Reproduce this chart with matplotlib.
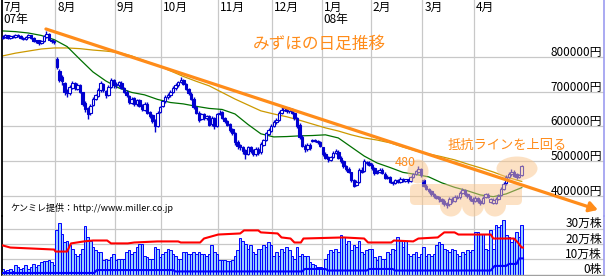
import numpy as np
import matplotlib
matplotlib.use("Agg")
import matplotlib.pyplot as plt
import matplotlib.transforms as mtransforms
from matplotlib.patches import Ellipse, Circle, FancyBboxPatch, PathPatch
from matplotlib.path import Path

plt.rcParams['font.family'] = ['Noto Sans CJK JP', 'DejaVu Sans']

# ---------------- data (prices in 千円, volume in 万株) ----------------
month_labels = ['7月', '8月', '9月', '10月', '11月', '12月', '1月', '2月', '3月', '4月']
month_start = [0, 21, 44, 62, 84, 105, 124, 143, 163, 183]
year_labels = ['07年', '08年']
year_start = [0, 124]

open_k = [
    855, 857, 862, 856, 861, 858, 864, 860, 855, 852, 858, 862, 855, 845, 848, 840, 846, 858, 866, 850, 847,
    795, 760, 742, 725, 702, 697, 712, 724, 708, 718, 698, 668, 652, 638, 662, 678, 688, 705, 722, 703, 692, 713, 733,
    722, 718, 726, 710, 700, 688, 668, 682, 664, 676, 662, 648, 666, 642, 632, 618, 600, 642,
    660, 672, 684, 690, 700, 710, 718, 728, 735, 722, 708, 694, 680, 655, 640, 622, 635, 624, 630, 606, 625, 602,
    636, 642, 624, 616, 606, 592, 582, 556, 546, 541, 532, 522, 541, 531, 521, 536, 526, 548, 562, 578, 588,
    602, 612, 618, 640, 648, 652, 644, 650, 638, 624, 605, 570, 545, 536, 548, 558, 560, 557, 555,
    540, 522, 512, 503, 512, 524, 528, 510, 500, 486, 478, 468, 445, 432, 440, 476, 472, 498, 496,
    490, 480, 466, 470, 476, 464, 452, 455, 440, 438, 446, 440, 450, 444, 448, 443, 455, 462, 470, 478,
    445, 430, 420, 414, 405, 400, 396, 390, 386, 380, 376, 392, 386, 398, 396, 410, 418, 406, 400, 392,
    386, 394, 386, 380, 396, 404, 384, 380, 381, 392, 402, 420, 436, 456, 462, 470, 462, 456, 460,
]
high_k = [
    862, 865, 863, 862, 863, 867, 866, 862, 858, 860, 865, 864, 857, 850, 850, 848, 862, 875, 868, 853, 849,
    800, 765, 748, 728, 708, 718, 730, 728, 724, 722, 700, 672, 657, 664, 684, 694, 710, 730, 726, 706, 718, 740, 738,
    728, 732, 730, 714, 704, 692, 686, 686, 680, 680, 666, 670, 670, 646, 636, 622, 645, 660,
    676, 690, 695, 705, 716, 725, 732, 742, 738, 726, 712, 698, 684, 660, 644, 640, 638, 634, 634, 630, 628, 640,
    648, 646, 628, 620, 610, 596, 585, 560, 550, 545, 536, 545, 545, 534, 540, 540, 555, 565, 585, 595, 606,
    618, 625, 645, 655, 658, 656, 655, 654, 642, 628, 610, 575, 550, 552, 552, 563, 563, 560, 558,
    542, 526, 516, 516, 530, 535, 532, 514, 504, 490, 482, 470, 450, 446, 480, 482, 505, 502, 500,
    494, 484, 474, 480, 480, 468, 460, 458, 444, 448, 450, 454, 452, 450, 450, 458, 466, 476, 485, 480,
    448, 434, 424, 418, 410, 404, 400, 394, 390, 384, 396, 396, 402, 402, 414, 424, 420, 410, 404, 396,
    400, 398, 390, 400, 410, 408, 394, 394, 396, 405, 425, 440, 460, 468, 478, 474, 465, 464, 490,
]
low_k = [
    851, 854, 853, 853, 855, 855, 857, 852, 848, 849, 855, 852, 842, 840, 835, 837, 843, 855, 848, 840, 838,
    765, 728, 718, 690, 685, 692, 708, 705, 705, 695, 660, 642, 622, 632, 658, 675, 684, 700, 700, 683, 688, 710, 712,
    712, 714, 708, 695, 685, 665, 664, 660, 660, 655, 645, 645, 636, 625, 610, 585, 598, 638,
    655, 668, 680, 686, 696, 706, 714, 724, 718, 704, 690, 676, 650, 636, 612, 618, 620, 620, 600, 602, 592, 598,
    632, 622, 610, 600, 585, 575, 548, 535, 532, 522, 505, 518, 525, 515, 516, 518, 522, 545, 558, 575, 585,
    598, 608, 615, 636, 644, 640, 640, 636, 620, 596, 565, 540, 528, 530, 532, 555, 554, 550, 540,
    516, 505, 498, 500, 508, 520, 506, 495, 480, 472, 465, 440, 425, 428, 436, 465, 468, 490, 485,
    476, 460, 462, 466, 462, 448, 448, 436, 432, 435, 436, 438, 440, 440, 438, 440, 452, 460, 466, 455,
    426, 416, 410, 400, 395, 390, 384, 378, 370, 366, 372, 380, 382, 390, 392, 405, 400, 395, 386, 378,
    382, 380, 375, 378, 393, 394, 380, 376, 378, 388, 400, 418, 432, 452, 458, 455, 450, 452, 458,
]
close_k = [
    858, 862, 856, 860, 858, 864, 860, 855, 852, 858, 862, 855, 845, 848, 840, 845, 860, 865, 850, 846, 842,
    770, 735, 730, 700, 695, 715, 725, 710, 720, 700, 665, 650, 635, 660, 680, 690, 705, 725, 705, 690, 715, 735, 720,
    720, 728, 711, 699, 690, 670, 680, 665, 675, 660, 650, 665, 640, 630, 615, 600, 640, 655,
    672, 685, 690, 700, 712, 720, 728, 735, 722, 708, 695, 680, 655, 640, 620, 635, 625, 630, 605, 625, 600, 635,
    640, 625, 615, 605, 590, 580, 555, 545, 540, 530, 520, 540, 530, 520, 535, 525, 550, 560, 580, 590, 600,
    612, 620, 640, 648, 652, 645, 650, 640, 625, 600, 570, 545, 535, 548, 538, 560, 558, 555, 545,
    520, 510, 505, 512, 525, 530, 510, 500, 485, 478, 470, 445, 430, 440, 475, 470, 500, 495, 490,
    480, 465, 470, 475, 465, 452, 455, 440, 438, 445, 440, 450, 445, 448, 442, 455, 462, 472, 478, 460,
    430, 420, 415, 405, 400, 395, 390, 385, 378, 375, 392, 385, 398, 395, 410, 418, 405, 400, 392, 385,
    395, 385, 380, 395, 405, 398, 390, 388, 392, 400, 420, 435, 455, 462, 470, 458, 455, 460, 485,
]
volume_man = [
    3.7, 2.6, 3.1, 3.7, 2.6, 5.9, 4.8, 3.7, 4.4, 5.9, 3.7, 4.8, 7.0, 4.8, 6.5, 8.1, 8.5, 8.7, 9.2, 8.1, 6.5,
    29.2, 33.8, 26.6, 21.1, 22.2, 19.0, 16.8, 13.5, 12.4, 13.5, 16.8, 31.4, 24.4, 22.2, 17.9, 15.7, 14.6, 14.6, 9.2, 10.2, 9.2, 11.3, 13.5,
    9.2, 10.2, 10.2, 10.2, 14.6, 15.7, 13.5, 14.6, 17.9, 20.0, 20.0, 12.4, 11.3, 10.2, 10.2, 17.9, 16.8, 11.3,
    13.5, 14.6, 16.8, 15.7, 13.5, 12.4, 10.2, 10.2, 14.6, 14.6, 13.5, 13.5, 14.6, 13.5, 14.6, 13.5, 13.5, 12.4, 13.5, 19.0, 14.6, 13.5,
    9.2, 9.2, 9.2, 8.7, 8.7, 9.2, 12.4, 15.7, 24.0, 22.2, 20.0, 16.8, 19.0, 14.6, 13.5, 16.8, 16.8, 19.0, 17.9, 21.1, 19.0,
    12.4, 14.6, 12.4, 16.8, 14.6, 17.9, 15.7, 12.4, 10.2, 17.9, 12.4,
    13.5, 12.4, 12.4, 8.1, 7.0, 5.9, 4.8, 4.8, 3.7, 10.2,
    13.5, 15.7, 14.6, 16.8, 14.6, 25.5, 24.4, 20.0, 22.2, 15.7,
    19.0, 17.9, 22.2, 14.6, 13.5, 15.7, 16.8, 16.8, 11.3, 9.2,
    12.4, 10.2, 10.2, 14.6, 13.5, 16.8, 15.7, 24.4, 22.2, 17.9,
    22.2, 13.5, 12.4, 13.5, 14.6, 11.3, 13.5, 17.9, 12.4, 13.5,
    12.4, 13.5, 19.0, 21.1, 20.0, 16.8, 15.7, 14.6, 16.8, 15.7,
    13.5, 12.4, 14.6, 13.5, 15.7, 14.6,
    15.7, 27.7, 27.7, 26.6, 26.6, 16.8, 15.7, 28.8, 16.8, 32.0, 31.0, 32.0, 35.3, 25.5, 24.4, 21.1, 23.3, 27.7, 24.4, 32.5,
]

# moving averages read every 5 trading days
ma_day = [0, 5, 10, 15, 20, 25, 30, 35, 40, 45, 50, 55, 60, 65, 70, 75, 80, 85, 90, 95, 100,
          105, 110, 115, 120, 125, 130, 135, 140, 145, 150, 155, 160, 165, 170, 175, 180, 185, 190, 195, 200, 201]
ma25_k = [875, 873, 869, 862, 850, 830, 793, 757, 731, 711, 698, 691, 678, 669, 665, 658, 652, 649, 636, 606, 579,
          570, 571, 573, 574, 576, 567, 541, 515, 495, 482, 468, 462, 455, 438, 425, 415, 403, 398, 406, 421, 424]
ma75_k = [803, 811, 817, 823, 826, 826, 824, 820, 817, 813, 803, 789, 776, 760, 744, 730, 717, 698, 679, 662, 645,
          636, 628, 618, 607, 596, 587, 576, 567, 561, 553, 541, 530, 521, 513, 504, 492, 481, 469, 455, 444, 442]

red_day = [0, 3, 11, 20, 20.5, 25, 26.5, 31.5, 35, 40.5, 42, 48.5, 51, 60, 68, 69, 76.5, 78, 83.5, 92, 93.5, 99, 100,
           106.5, 108, 111.5, 113, 115.5, 116.5, 132, 140, 141.5, 150.5, 151.5, 159, 161, 168.5, 171, 175, 176.5,
           189, 190, 198, 199.5, 201, 201.5]
red_man = [19.0, 17.6, 17.0, 16.3, 15.0, 15.0, 20.3, 21.6, 22.2, 22.2, 20.3, 20.3, 20.9, 21.6, 21.6, 20.9, 20.9, 23.5,
           26.1, 26.8, 28.8, 28.8, 27.5, 26.8, 24.2, 23.5, 20.9, 20.9, 23.5, 24.2, 23.5, 20.9, 20.9, 22.2, 21.6, 23.5,
           24.2, 27.5, 27.5, 26.1, 26.1, 23.5, 23.5, 20.9, 17.6, 17.6]
blue_day = [0, 35.5, 36.5, 66, 67, 116, 117, 125, 126, 141, 142, 151, 152, 189, 190.5, 195, 196, 199, 200, 201.5]
blue_man = [1.0, 1.0, 2.9, 2.9, 2.0, 2.0, 3.6, 3.6, 2.6, 2.6, 3.6, 3.6, 2.6, 2.6, 5.6, 5.6, 6.9, 6.9, 10.5, 10.5]

trend_day = [16.8, 230.5]
trend_k = [880.6, 360.0]

price_ticks = [400, 500, 600, 700, 800]
price_tick_labels = ['400000円', '500000円', '600000円', '700000円', '800000円']
volume_ticks = [0, 10, 20, 30]
volume_tick_labels = ['0株', '10万株', '20万株', '30万株']

# ---------------- style ----------------
W, H = 606, 276
BLUE = '#0000D0'
ORANGE = '#FF8C1A'
GRID = '#C8C8C8'

fig = plt.figure(figsize=(W / 100, H / 100), dpi=100)
fig.patch.set_facecolor('white')
pxT = mtransforms.Affine2D().scale(1, -1).translate(0, H)

axv = fig.add_axes([1.5 / W, 1.5 / H, 602 / W, 58.5 / H])
axp = fig.add_axes([1.5 / W, 60 / H, 602 / W, 216 / H])
axp.patch.set_alpha(0)

XMIN, XMAX = -0.4, 232.66
bounds = [m - 0.5 for m in month_start[1:]]

for ax in (axp, axv):
    ax.set_xlim(XMIN, XMAX)
    ax.set_xticks(bounds)
    ax.tick_params(length=0, labelbottom=False, labelleft=False)
    ax.grid(True, color=GRID, lw=0.9)
    ax.set_axisbelow(True)
    for s in ('top', 'bottom'):
        ax.spines[s].set_visible(False)
    ax.spines['left'].set_color('black')
    ax.spines['left'].set_linewidth(1.3)
    ax.spines['right'].set_color('#9C9CF0')
    ax.spines['right'].set_linewidth(1.2)
axv.spines['bottom'].set_visible(True)
axv.spines['bottom'].set_color('#A0A0A0')
axv.spines['bottom'].set_linewidth(0.9)

axp.set_yticks(price_ticks)
axv.set_yticks(volume_ticks)

# ---------------- candles ----------------
o = np.array(open_k, float)
h = np.array(high_k, float)
l = np.array(low_k, float)
c = np.array(close_k, float)
n = len(c)
idx = np.arange(n)
up = c >= o
bottom = np.minimum(o, c)
height = np.maximum(np.abs(c - o), 1.5)

axp.plot(ma_day, ma75_k, color='#CC9900', lw=0.9, zorder=2)
axp.plot(ma_day, ma25_k, color='#007000', lw=0.9, zorder=2.1)
axp.vlines(idx, l, h, color=BLUE, lw=1.0, zorder=3)
axp.bar(idx[up], height[up], bottom=bottom[up], width=0.95, facecolor='white',
        edgecolor=BLUE, lw=0.8, zorder=4)
axp.bar(idx[~up], height[~up], bottom=bottom[~up], width=0.95, facecolor=BLUE,
        edgecolor=BLUE, lw=0.8, zorder=4)

# ---------------- volume ----------------
v = np.array(volume_man, float)
axv.bar(np.arange(len(v)), v, width=1.0, facecolor='#99CCFF', edgecolor='#0000FF', lw=0.7, zorder=2)
axv.plot(red_day, red_man, color='#FF0000', lw=1.5, zorder=3)
axv.plot(blue_day, blue_man, color='#0000FF', lw=1.5, zorder=3)

axp.set_ylim(342.4, 964.0)
axv.set_ylim(0, 38.2)

# ---------------- annotation highlights ----------------
peach = '#FAC58A'
e1 = Ellipse((418, 171.5), 21, 24, transform=pxT, facecolor=peach, alpha=0.5, lw=0,
             zorder=5, clip_on=False)
e2 = Ellipse((517, 168.5), 41, 24, transform=pxT, facecolor=peach, alpha=0.5, lw=0,
             zorder=5, clip_on=False)
axp.add_patch(e1)
axp.add_patch(e2)
parts = [FancyBboxPatch((410, 184), 112, 21, boxstyle='round,pad=0,rounding_size=5'),
         Circle((451, 205.5), 11), Circle((473, 205.5), 11), Circle((495, 205.5), 11)]
paths = [p.get_patch_transform().transform_path(p.get_path()) for p in parts]
comp = Path.make_compound_path(*paths)
axp.add_patch(PathPatch(comp, transform=pxT, facecolor=peach, alpha=0.5, lw=0,
                        zorder=5, clip_on=False))

# trend line
axp.annotate('', xy=(trend_day[1], trend_k[1]), xytext=(trend_day[0], trend_k[0]),
             arrowprops=dict(arrowstyle='-|>,head_length=0.5,head_width=0.3', color=ORANGE,
                             lw=2.3, shrinkA=0, shrinkB=0),
             annotation_clip=False, zorder=6)

# ---------------- texts ----------------
xT = mtransforms.blended_transform_factory(axp.transData, pxT)
for m, lab in zip(month_start, month_labels):
    axp.text(m - 0.5 + 0.75, 11, lab, transform=xT, fontsize=8.5, va='baseline', ha='left', zorder=7)
for m, lab in zip(year_start, year_labels):
    axp.text(m - 0.5 + 0.75, 23, lab, transform=xT, fontsize=8.5, va='baseline', ha='left', zorder=7)

rp = mtransforms.offset_copy(mtransforms.blended_transform_factory(axp.transAxes, axp.transData),
                             fig=fig, x=-1.5, y=1.2, units='dots')
for t, lab in zip(price_ticks, price_tick_labels):
    axp.text(1.0, t, lab, transform=rp, fontsize=8.5, va='baseline', ha='right', zorder=7)
rv = mtransforms.offset_copy(mtransforms.blended_transform_factory(axv.transAxes, axv.transData),
                             fig=fig, x=-1.5, y=1.2, units='dots')
for t, lab in zip(volume_ticks, volume_tick_labels):
    axv.text(1.0, t, lab, transform=rv, fontsize=8.5, va='baseline', ha='right', zorder=7)

fig.text(253, 48.5, 'みずほの日足推移', transform=pxT, fontsize=12, color=ORANGE, va='baseline')
fig.text(448, 148.5, '抵抗ラインを上回る', transform=pxT, fontsize=9.5, color=ORANGE, va='baseline')
fig.text(395, 165.5, '480', transform=pxT, fontsize=9, color=ORANGE, va='baseline')
fig.text(10, 211, 'ケンミレ提供：http://www.miller.co.jp', transform=pxT, fontsize=6.5,
         color='black', va='baseline')

fig.savefig('out.png', dpi=100)
